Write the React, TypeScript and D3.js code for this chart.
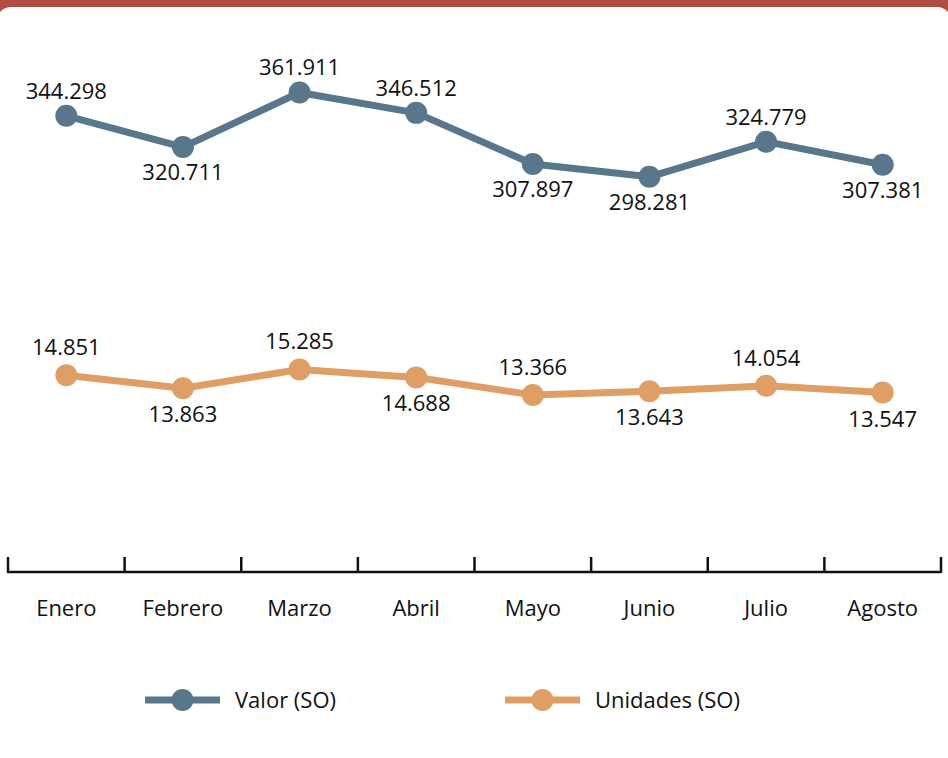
import React from "react";
import * as d3 from "d3";

const months = ["Enero", "Febrero", "Marzo", "Abril", "Mayo", "Junio", "Julio", "Agosto"];
const valorSO = [344298, 320711, 361911, 346512, 307897, 298281, 324779, 307381];
const unidadesSO = [14851, 13863, 15285, 14688, 13366, 13643, 14054, 13547];
const valorLabelPos = ["above", "below", "above", "above", "below", "below", "above", "below"];
const unidadesLabelPos = ["above", "below", "above", "below", "above", "below", "above", "below"];
const seriesNames = ["Valor (SO)", "Unidades (SO)"];

const W = 948;
const H = 758;
const BLUE = "#58768C";
const ORANGE = "#DE9E64";
const FONT = "'Open Sans', 'Noto Sans', sans-serif";
const FS = 22;

const locale = d3.formatLocale({ decimal: ",", thousands: ".", grouping: [3], currency: ["", ""] });
const fmt = locale.format(",d");

export default function App() {
  const x = d3.scaleBand<string>().domain(months).range([8, 941]).padding(0);
  const yValor = d3.scaleLinear().domain([0, 400000]).range([572, 42]);
  const yUnid = d3.scaleLinear().domain([0, 40000]).range([572, 42]);
  const cx = (m: string) => (x(m) as number) + x.bandwidth() / 2;

  const lineV = d3
    .line<number>()
    .x((_, i) => cx(months[i]))
    .y((d) => yValor(d));
  const lineU = d3
    .line<number>()
    .x((_, i) => cx(months[i]))
    .y((d) => yUnid(d));

  const tickXs = [...months.map((m) => x(m) as number), x.range()[1]];

  return (
    <>
      <style>{"body{margin:0;background:#fff}"}</style>
      <svg width={W} height={H} style={{ display: "block" }} fontFamily={FONT}>
        <rect x={0} y={0} width={W} height={H} fill="#fff" />
        <rect x={0} y={0} width={W} height={30} fill="#B04E44" />
        <rect x={-3} y={7} width={W + 6} height={H} rx={14} ry={14} fill="#fff" />

        {/* Axis */}
        <line x1={8} x2={941} y1={572} y2={572} stroke="#111" strokeWidth={2.5} />
        {tickXs.map((t, i) => (
          <line key={i} x1={t} x2={t} y1={557} y2={573} stroke="#111" strokeWidth={2.5} />
        ))}
        {months.map((m) => (
          <text key={m} x={cx(m)} y={616} textAnchor="middle" fontSize={FS} fill="#111">
            {m}
          </text>
        ))}

        {/* Valor series */}
        <path d={lineV(valorSO) || ""} fill="none" stroke={BLUE} strokeWidth={7} strokeLinejoin="round" />
        {valorSO.map((v, i) => (
          <circle key={i} cx={cx(months[i])} cy={yValor(v)} r={11} fill={BLUE} />
        ))}
        {valorSO.map((v, i) => (
          <text
            key={i}
            x={cx(months[i])}
            y={yValor(v) + (valorLabelPos[i] === "above" ? -17 : 33)}
            textAnchor="middle"
            fontSize={FS}
            fill="#111"
          >
            {fmt(v)}
          </text>
        ))}

        {/* Unidades series */}
        <path d={lineU(unidadesSO) || ""} fill="none" stroke={ORANGE} strokeWidth={7} strokeLinejoin="round" />
        {unidadesSO.map((v, i) => (
          <circle key={i} cx={cx(months[i])} cy={yUnid(v)} r={11} fill={ORANGE} />
        ))}
        {unidadesSO.map((v, i) => (
          <text
            key={i}
            x={cx(months[i])}
            y={yUnid(v) + (unidadesLabelPos[i] === "above" ? -20 : 34)}
            textAnchor="middle"
            fontSize={FS}
            fill="#111"
          >
            {fmt(v)}
          </text>
        ))}

        {/* Legend */}
        {[
          { name: seriesNames[0], color: BLUE, x0: 145 },
          { name: seriesNames[1], color: ORANGE, x0: 505 },
        ].map((l) => (
          <g key={l.name}>
            <line x1={l.x0} x2={l.x0 + 75} y1={700} y2={700} stroke={l.color} strokeWidth={7} />
            <circle cx={l.x0 + 37.5} cy={700} r={11} fill={l.color} />
            <text x={l.x0 + 90} y={708} fontSize={FS} fill="#111">
              {l.name}
            </text>
          </g>
        ))}
      </svg>
    </>
  );
}
